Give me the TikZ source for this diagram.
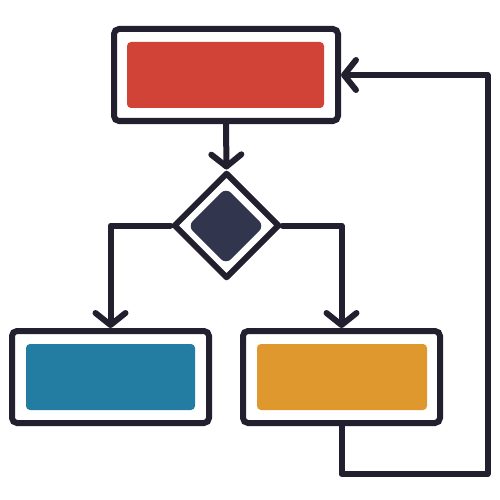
\documentclass[tikz,border=0pt]{standalone}
\usetikzlibrary{shapes.geometric,arrows.meta}
\definecolor{ink}{HTML}{221F2F}
\definecolor{cred}{HTML}{D14336}
\definecolor{cblue}{HTML}{237CA1}
\definecolor{corange}{HTML}{DF982E}
\definecolor{cnavy}{HTML}{31364E}
\begin{document}
\begin{tikzpicture}[x=1pt,y=-1pt,
  frame/.style={draw=ink,fill=white,line width=6pt,rectangle,rounded corners=5pt,inner sep=0pt,minimum width=197pt,minimum height=92pt},
  panel/.style={rectangle,rounded corners=4pt,inner sep=0pt,minimum height=66pt},
  decision/.style={draw=ink,fill=white,line width=6pt,diamond,aspect=1,inner sep=0pt,minimum width=106pt,minimum height=106pt,line join=round},
  link/.style={draw=ink,line width=6pt,line join=round,line cap=round,-{Straight Barb[length=12pt,width=30pt,round]}},
  wire/.style={draw=ink,line width=6pt,line join=round}]
\useasboundingbox (0,0) rectangle (500,500);
\fill[white] (0,0) rectangle (500,500);
% boxes
\node[frame,minimum width=224pt] (top) at (226,75) {};
\node[panel,fill=cred,minimum width=197pt] (topin) at (225.5,75) {};
\node[decision] (dia) at (226.5,225.5) {};
\node[rectangle,rounded corners=7pt,fill=cnavy,minimum size=54pt,inner sep=0pt,rotate=45] (diain) at (226,226) {};
\node[frame] (bl) at (110.5,377) {};
\node[panel,fill=cblue,minimum width=169pt] (blin) at (110.5,377) {};
\node[frame] (br) at (341.5,377) {};
\node[panel,fill=corange,minimum width=170pt] (brin) at (342,377) {};
% connectors
\draw[link] (top.south) -- (dia.north);
\draw[link] (dia.west) -| (bl.north);
\draw[link] (dia.east) -| (br.north);
\coordinate (loopc) at (487.5,474);
\draw[link] (br.south) |- (loopc) |- (top.east);
\end{tikzpicture}
\end{document}
